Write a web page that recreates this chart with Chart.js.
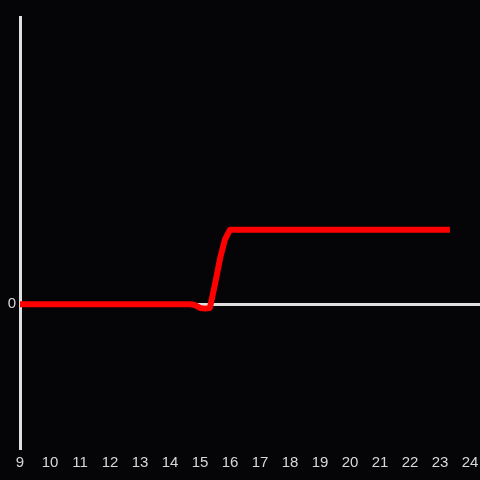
<!DOCTYPE html>
<html>
<head>
<meta charset="utf-8">
<script src="https://cdn.jsdelivr.net/npm/chart.js@4"></script>
<style>
  html, body { margin: 0; padding: 0; background: #050407; }
  #wrap { width: 480px; height: 480px; }
</style>
</head>
<body>
<div id="wrap"><canvas id="c" width="480" height="480"></canvas></div>
<script>
const hours  = [9, 14.67, 14.83, 15.0, 15.17, 15.33, 15.5, 15.67, 15.83, 16.0, 23.33];
const values = [0, 0, -0.005, -0.025, -0.03, -0.025, 0.14, 0.32, 0.45, 0.52, 0.52];
const xTickStart = 9;
const xTickEnd = 24;
const yTickLabels = [0];

const bgPlugin = {
  id: 'bg',
  beforeDraw(chart) {
    const ctx = chart.ctx;
    ctx.save();
    ctx.fillStyle = '#050407';
    ctx.fillRect(0, 0, chart.width, chart.height);
    ctx.restore();
  }
};

new Chart(document.getElementById('c'), {
  type: 'line',
  data: {
    datasets: [{
      data: hours.map((h, i) => ({ x: h, y: values[i] })),
      borderColor: '#ff0000',
      borderWidth: 6,
      pointRadius: 0,
      tension: 0,
      fill: false,
      borderJoinStyle: 'round'
    }]
  },
  options: {
    responsive: false,
    animation: false,
    layout: { padding: { top: 17, right: 0, left: 0, bottom: 0 } },
    plugins: { legend: { display: false }, tooltip: { enabled: false } },
    scales: {
      x: {
        type: 'linear',
        min: xTickStart,
        max: 24.333,
        afterFit(s) { s.height = 32; s.paddingLeft = 0; s.paddingRight = 0; },
        ticks: {
          stepSize: 1,
          includeBounds: false,
          color: '#d8d8d8',
          font: { family: 'Liberation Sans', size: 15 },
          padding: 6,
          maxRotation: 0,
          autoSkip: false
        },
        afterBuildTicks(s) {
          s.ticks = [];
          for (let v = xTickStart; v <= xTickEnd; v++) s.ticks.push({ value: v });
        },
        grid: { display: false, drawTicks: false },
        border: { display: false }
      },
      y: {
        min: -1,
        max: 2,
        afterFit(s) { s.width = 20; s.paddingTop = 0; s.paddingBottom = 0; },
        afterBuildTicks(s) { s.ticks = yTickLabels.map(v => ({ value: v })); },
        ticks: {
          color: '#d8d8d8',
          font: { family: 'Liberation Sans', size: 15 },
          padding: 4
        },
        grid: {
          drawTicks: false,
          color: '#e0e0e0',
          lineWidth: 3
        },
        border: { display: true, color: '#e0e0e0', width: 3 }
      }
    }
  },
  plugins: [bgPlugin]
});
</script>
</body>
</html>
